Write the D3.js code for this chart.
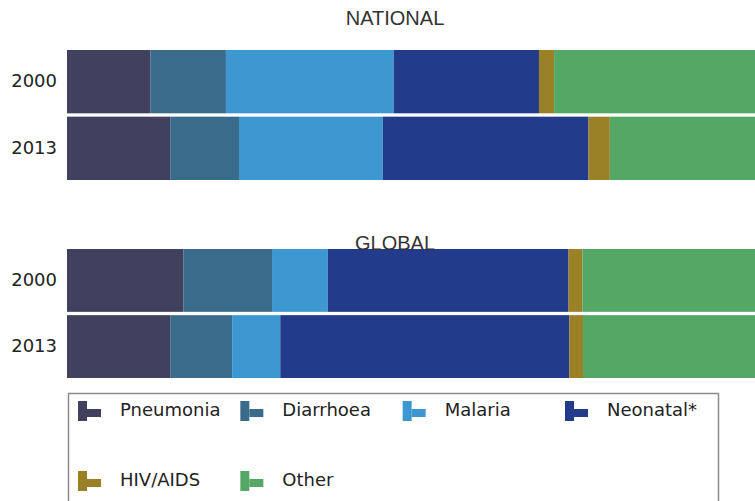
<!DOCTYPE html>
<html><head><meta charset="utf-8">
<script src="https://cdn.jsdelivr.net/npm/d3@7"></script>
<style>body{margin:0;background:#fff}svg{display:block}</style>
</head><body>
<svg id="c" width="755" height="501"></svg>
<script>
const categories = ["Pneumonia","Diarrhoea","Malaria","Neonatal*","HIV/AIDS","Other"];
const colors = ["#41415f","#3b6b8a","#3d97d1","#233b8b","#9b8126","#55a765"];
const years = ["2000","2013"];
const panels = ["NATIONAL","GLOBAL"];
// percent share per cause, [2000, 2013]
const national2000 = [12.1, 11.0, 24.4, 21.1, 2.2, 29.2];
const national2013 = [15.0, 10.0, 20.9, 29.9, 3.1, 21.1];
const global2000   = [16.9, 12.9, 8.1, 35.0, 2.0, 25.1];
const global2013   = [15.0, 9.0, 7.0, 42.0, 2.0, 25.0];

const panelData = [
  {title: "NATIONAL", rows: [national2000, national2013], range: [50, 180], titleY: 25},
  {title: "GLOBAL", rows: [global2000, global2013], range: [249, 378], titleY: 250}
];

const svg = d3.select("#c");
const x = d3.scaleLinear().domain([0, 100]).range([67, 755]);

panelData.forEach(p => {
  const y = d3.scaleBand().domain(years).range(p.range).paddingInner(0.05).paddingOuter(0);
  const g = svg.append("g");
  years.forEach((yr, i) => {
    const vals = p.rows[i];
    let cum = 0;
    const segs = vals.map((v, k) => { const s = {k, x0: cum, x1: cum + v}; cum += v; return s; });
    g.selectAll(null).data(segs).enter().append("rect")
      .attr("x", d => x(d.x0))
      .attr("width", d => x(d.x1) - x(d.x0))
      .attr("y", y(yr))
      .attr("height", y.bandwidth())
      .attr("fill", d => colors[d.k]);
  });
  const ax = g.append("g").attr("transform", `translate(${x(0)},0)`)
    .call(d3.axisLeft(y).tickSize(0).tickPadding(10));
  ax.select(".domain").remove();
  ax.selectAll("text").attr("font-family", "DejaVu Sans, Verdana, sans-serif")
    .attr("font-size", 18).attr("fill", "#222");
  g.append("text").attr("x", 395).attr("y", p.titleY).attr("text-anchor", "middle")
    .attr("font-family", "Liberation Sans, Arial, sans-serif").attr("font-size", 20)
    .attr("fill", "#333").text(p.title);
});

// legend
const lg = svg.append("g");
lg.append("rect").attr("x", 68.5).attr("y", 393.5).attr("width", 650).attr("height", 120)
  .attr("fill", "#fff").attr("stroke", "#8a8a8a").attr("stroke-width", 1.5);
const colX = d3.scalePoint().domain([0,1,2,3]).range([78, 565]);
const rowY = [416, 486];
categories.forEach((c, i) => {
  const col = i % 4, row = Math.floor(i / 4);
  const ix = colX(col), by = rowY[row];
  const it = lg.append("g");
  it.append("rect").attr("x", ix).attr("y", by - 15).attr("width", 9).attr("height", 20).attr("fill", colors[i]);
  it.append("rect").attr("x", ix + 9).attr("y", by - 7).attr("width", 14).attr("height", 8).attr("fill", colors[i]);
  it.append("text").attr("x", ix + 42).attr("y", by)
    .attr("font-family", "DejaVu Sans, Verdana, sans-serif").attr("font-size", 18)
    .attr("fill", "#222").text(c);
});
</script>
</body></html>
